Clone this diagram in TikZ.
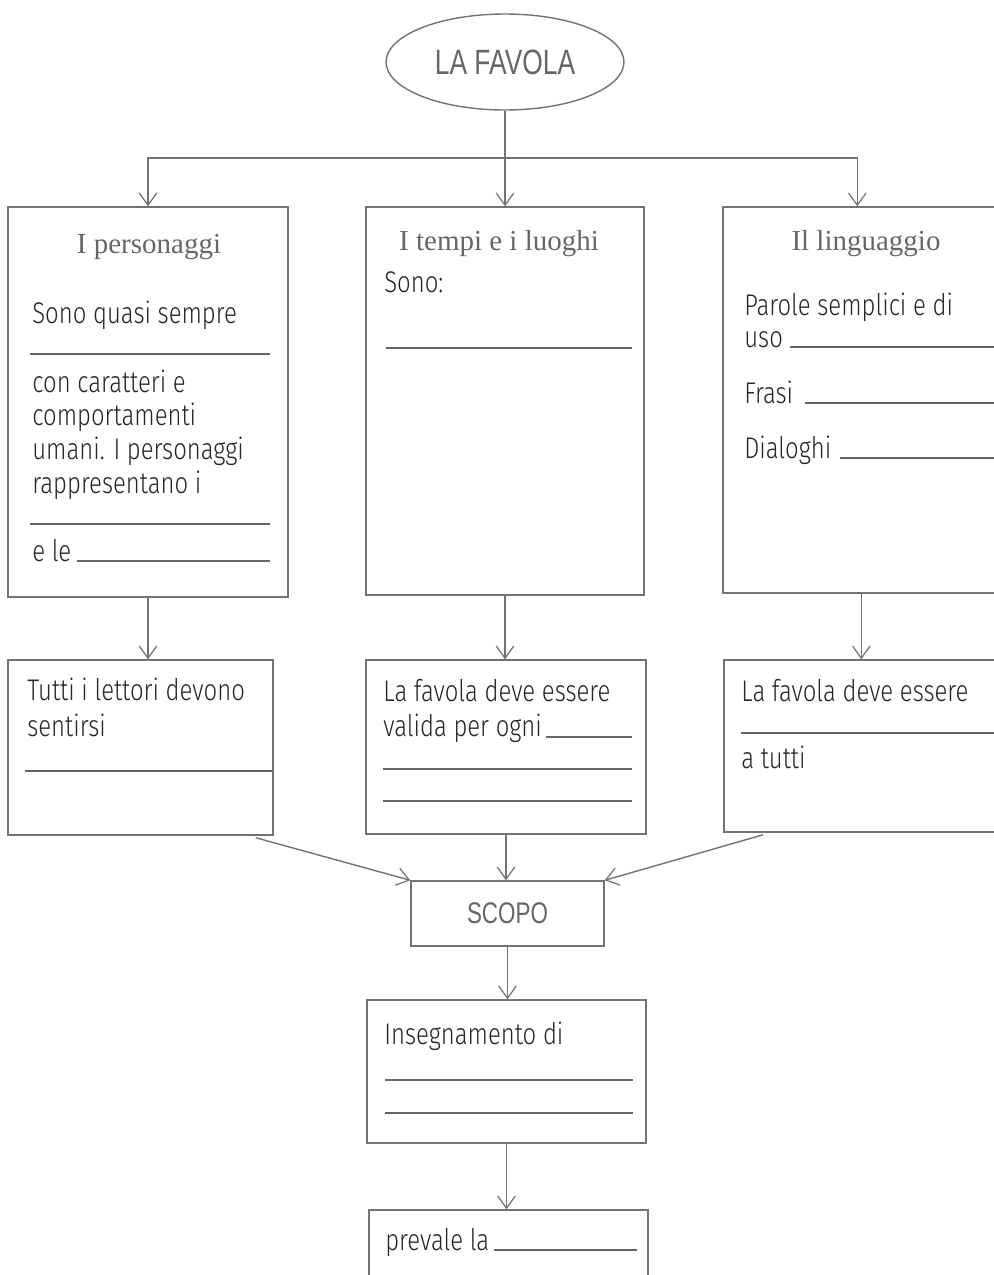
\documentclass[tikz,border=0pt]{standalone}
\usepackage{fontspec}
\setmainfont{Fira Sans}[UprightFont={* Light}, FakeStretch=0.8]
\newfontfamily\headfont{Liberation Serif}
\newfontfamily\condfont{Liberation Sans}[FakeStretch=0.75]
\usetikzlibrary{shapes.geometric,arrows.meta,fit,calc}
\tikzset{
  boxframe/.style={draw=black!55, line width=0.8pt, inner sep=0pt, rectangle},
  txt/.style={anchor=base west, inner sep=0pt, text=black!85, font=\fontsize{17}{20}\selectfont},
  head/.style={anchor=base, inner sep=0pt, text=black!60, font=\headfont\fontsize{16.5}{19}\selectfont},
  blank/.style={draw=black!60, line width=0.6pt},
  conn/.style={draw=black!55, line width=0.8pt},
  arr/.style={conn, -{Straight Barb[length=7pt,width=10pt,line width=0.7pt]}}
}
\begin{document}
\begin{tikzpicture}[x=0.02cm, y=-0.02cm]
\useasboundingbox (0,0) rectangle (994,1275);

% title
\node[draw=black!55, line width=0.8pt, ellipse, minimum width=4.76cm, minimum height=1.92cm, inner sep=0pt,
      text=black!60, font=\condfont\fontsize{20}{24}\selectfont] (fav) at (505,62) {LA FAVOLA};

% boxes
\node[boxframe, fit={(8,207) (288,597)}] (p1) {};
\node[boxframe, fit={(366,207) (644,595)}] (p2) {};
\node[boxframe, fit={(723,207) (1000,593)}] (p3) {};
\node[boxframe, fit={(8,660) (273,835)}] (q1) {};
\node[boxframe, fit={(366,660) (646,834)}] (q2) {};
\node[boxframe, fit={(724,660) (1000,832)}] (q3) {};
\node[boxframe, fit={(411,881) (604,946)}] (s) {};
\node[text=black!60, font=\condfont\fontsize{17}{20}\selectfont, inner sep=0pt] (stxt) at (s.center) {SCOPO};
\node[boxframe, fit={(367,1000) (646,1143)}] (r) {};
\node[boxframe, fit={(369,1210) (648,1290)}] (t) {};

% box 1
\node[head] (h1) at (149,253) {I personaggi};
\node[txt] (a1) at (32,323) {Sono quasi sempre};
\draw[blank] (30,354) -- (270,354);
\node[txt] (a2) at (32,392) {con caratteri e};
\node[txt] (a3) at (32,425) {comportamenti};
\node[txt] (a4) at (32,459) {umani. I personaggi};
\node[txt] (a5) at (32,493) {rappresentano i};
\draw[blank] (30,524) -- (270,524);
\node[txt] (a6) at (32,561) {e le};
\draw[blank] (77,561) -- (270,561);

% box 2
\node[head] (h2) at (499,250) {I tempi e i luoghi};
\node[txt] (b1) at (384,292) {Sono:};
\draw[blank] (386,348) -- (632,348);

% box 3
\node[head] (h3) at (866,250) {Il linguaggio};
\node[txt] (c1) at (744,315) {Parole semplici e di};
\node[txt] (c2) at (744,347) {uso};
\draw[blank] (790,347) -- (994,347);
\node[txt] (c3) at (744,403) {Frasi};
\draw[blank] (805,403) -- (994,403);
\node[txt] (c4) at (744,458) {Dialoghi};
\draw[blank] (840,458) -- (994,458);

% box 4
\node[txt] (d1) at (27,700) {Tutti i lettori devono};
\node[txt] (d2) at (27,736) {sentirsi};
\draw[blank] (25,771) -- (272,771);

% box 5
\node[txt] (e1) at (383,701) {La favola deve essere};
\node[txt] (e2) at (383,736) {valida per ogni};
\draw[blank] (546,737) -- (632,737);
\draw[blank] (383,769) -- (632,769);
\draw[blank] (383,801) -- (632,801);

% box 6
\node[txt] (f1) at (741,701) {La favola deve essere};
\draw[blank] (741,733) -- (994,733);
\node[txt] (f2) at (741,768) {a tutti};

% box 7
\node[txt] (g1) at (384,1044) {Insegnamento di};
\draw[blank] (385,1080) -- (633,1080);
\draw[blank] (385,1113) -- (633,1113);

% box 8
\node[txt] (k1) at (385,1250) {prevale la};
\draw[blank] (494,1250) -- (637,1250);

% connectors
\coordinate (j) at (fav.south |- 0,158);
\draw[conn] (fav.south) -- (j);
\draw[arr] (j) -| (p1.north);
\draw[arr] (j) -- (j |- p2.north);
\coordinate (p3top) at ($(p3.north west)+(135,0)$);
\draw[arr] (j) -| (p3top);

\draw[arr] (p1.south) -- (p1.south |- q1.north);
\draw[arr] (p2.south) -- (p2.south |- q2.north);
\coordinate (p3bot) at ($(p3.south west)+(139,0)$);
\draw[arr] (p3bot) -- (p3bot |- q3.north);

\coordinate (q1out) at ($(q1.south east)+(-18,2)$);
\draw[arr] (q1out) -- (s.north west);
\coordinate (q3out) at ($(q3.south west)+(40,2)$);
\draw[arr] (q3out) -- (s.north east);
\draw[arr] (q2.south) -- (q2.south |- s.north);

\draw[arr] (s.south) -- (s.south |- r.north);
\draw[arr] (r.south) -- (r.south |- t.north);
\end{tikzpicture}
\end{document}
